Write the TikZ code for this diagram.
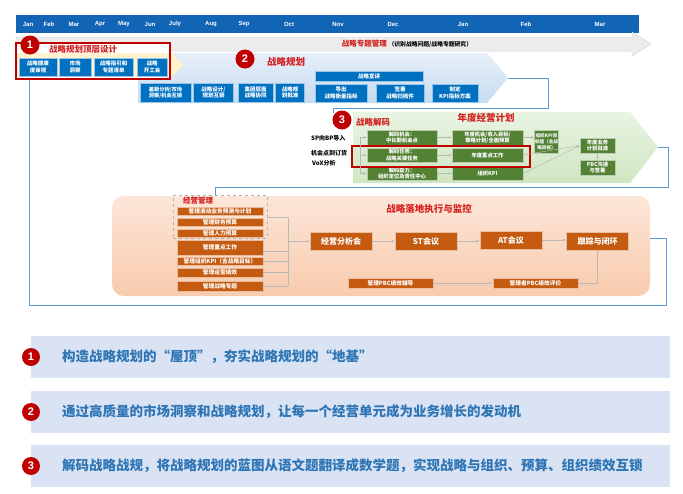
\documentclass[tikz,border=0pt]{standalone}
\usepackage{fontspec}
\setmainfont{Noto Sans CJK SC}
\newfontfamily\latfont{Liberation Sans}
\usetikzlibrary{arrows.meta,calc}
\definecolor{tlblue}{HTML}{1265B5}
\definecolor{cblue}{HTML}{0070C0}
\definecolor{cgreen}{HTML}{548235}
\definecolor{corange}{HTML}{C55A11}
\definecolor{dred}{HTML}{C00000}
\definecolor{tred}{HTML}{D42020}
\definecolor{connc}{HTML}{5B9BD5}
\definecolor{barbg}{HTML}{DAE3F3}
\definecolor{bartxt}{HTML}{2E75B6}
\definecolor{ctwotop}{HTML}{E6EFF9}
\definecolor{ctwobot}{HTML}{C7DCF0}
\definecolor{cthreetop}{HTML}{E9F4E2}
\definecolor{cthreebot}{HTML}{CFE6C2}
\definecolor{cfourtop}{HTML}{FCE6D8}
\definecolor{cfourbot}{HTML}{F8CBAD}
\definecolor{cyel}{HTML}{FFF2CC}
\tikzset{
  mon/.style={text=white, font=\latfont\bfseries\fontsize{6}{7}\selectfont, inner sep=0},
  bbox/.style={fill=cblue, draw=cblue!40, line width=0.4, text=white, align=center, inner sep=0, font=\bfseries\fontsize{5.5}{6.5}\selectfont},
  gbox/.style={fill=cgreen, draw=cgreen!40, line width=0.4, text=white, align=center, inner sep=0, font=\bfseries\fontsize{5.3}{6.3}\selectfont},
  obox/.style={fill=corange, draw=corange!40, line width=0.4, text=white, align=center, inner sep=0, minimum width=86, font=\bfseries\fontsize{5.7}{6.5}\selectfont},
  mbox/.style={fill=corange, draw=corange!40, line width=0.4, text=white, align=center, inner sep=0, minimum width=62, minimum height=18, font=\bfseries\fontsize{8}{9}\selectfont},
  numc/.style={circle, fill=dred, text=white, inner sep=0, minimum size=19, font=\latfont\bfseries\fontsize{11}{12}\selectfont},
  ttl/.style={text=tred, inner sep=0, font=\bfseries\fontsize{8.5}{9}\selectfont},
  lbl/.style={text=black, inner sep=0, anchor=west, font=\bfseries\fontsize{6}{7}\selectfont},
  conn/.style={draw=connc, line width=0.8},
  ar/.style={draw=gray!55, line width=0.5, -{Latex[length=3,width=2.6]}},
  gl/.style={draw=gray!55, line width=0.5},
  bar/.style={fill=barbg, inner sep=0, minimum width=639, minimum height=42},
  btxt/.style={text=bartxt, anchor=west, inner sep=0, font=\bfseries\fontsize{13.5}{15}\selectfont},
}
\begin{document}
\begin{tikzpicture}[x=1pt,y=-1pt]
\useasboundingbox (0,0) rectangle (683,493);
\fill[white] (0,0) rectangle (683,493);
% timeline
\fill[tlblue] (16,15) rectangle (639,33);
\node[mon] (mo1) at (28,24) {Jan};
\node[mon] (mo2) at (49,24) {Feb};
\node[mon] (mo3) at (74,24) {Mar};
\node[mon] (mo4) at (100,24) {Apr};
\node[mon] (mo5) at (124,24) {May};
\node[mon] (mo6) at (150,24) {Jun};
\node[mon] (mo7) at (175,24) {July};
\node[mon] (mo8) at (211,24) {Aug};
\node[mon] (mo9) at (244,24) {Sep};
\node[mon] (mo10) at (289,24) {Oct};
\node[mon] (mo11) at (338,24) {Nov};
\node[mon] (mo12) at (393,24) {Dec};
\node[mon] (mo13) at (463,24) {Jan};
\node[mon] (mo14) at (526,24) {Feb};
\node[mon] (mo15) at (600,24) {Mar};
% gray topic arrow
\path[fill=gray!15, draw=gray!30, line width=0.5] (16,37) -- (632,37) -- (632,32) -- (651,44) -- (632,56) -- (632,51) -- (16,51) -- cycle;
\node[inner sep=0] (gt) at (407,44) {\textcolor{tred}{\bfseries\fontsize{7.5}{8}\selectfont 战略专题管理}\,{\bfseries\fontsize{5.8}{7}\selectfont （识别战略问题/战略专题研究）}};
% section 2 background
\path[top color=ctwotop, bottom color=ctwobot] (138,53) -- (487,53) -- (508,78) -- (487,103) -- (138,103) -- cycle;
\coordinate (c2tip) at (508,78);
% section 1
\fill[white] (16,43) rectangle (170,79);
\fill[cyel] (16,53) -- (171,53) -- (184,65) -- (171,77) -- (16,77) -- cycle;
\node[bbox, minimum width=38, minimum height=18] (b11) at (38,67) {战略健康\\度审视};
\node[bbox, minimum width=32, minimum height=18] (b12) at (75,67) {市场\\洞察};
\node[bbox, minimum width=39, minimum height=18] (b13) at (113.5,67) {战略指引和\\专题清单};
\node[bbox, minimum width=30, minimum height=18] (b14) at (152,67) {战略\\开工会};
\node[draw=dred, line width=1.2, minimum width=154, minimum height=36, inner sep=0] (sec1) at (93,61) {};
\node[numc] (n1) at (30,45) {1};
\node[ttl] (t1) at (83,49) {战略规划顶层设计};
% section 2
\node[numc] (n2) at (245,59) {2};
\node[ttl, font=\bfseries\fontsize{9.5}{10}\selectfont] (t2) at (286,62) {战略规划};
\node[bbox, minimum width=51, minimum height=19, font=\bfseries\fontsize{5.2}{6.3}\selectfont] (b21) at (165.5,92.5) {差距分析/市场\\洞察/机会互锁};
\node[bbox, minimum width=40, minimum height=19] (b22) at (213.5,92.5) {战略设计/\\规划互锁};
\node[bbox, minimum width=35, minimum height=19] (b23) at (255.5,92.5) {集团层面\\战略协同};
\node[bbox, minimum width=29, minimum height=19] (b24) at (290,92.5) {战略规\\划批准};
\node[bbox, minimum width=108, minimum height=10] (b25) at (369,76) {战略宣讲};
\node[bbox, minimum width=52, minimum height=18] (b26) at (341,93) {导出\\战略衡量指标};
\node[bbox, minimum width=48, minimum height=18] (b27) at (400,93) {签署\\战略归档件};
\node[bbox, minimum width=46, minimum height=18] (b28) at (455,93) {制定\\KPI指标方案};
% connector 2 -> 3
\coordinate (k2a) at (548,108);
\coordinate (k2b) at (333,113);
\draw[conn] (c2tip) -| (k2a) -| (k2b);
% section 3
\path[top color=cthreetop, bottom color=cthreebot] (353,112) -- (630,112) -- (658,147) -- (630,183) -- (353,183) -- cycle;
\coordinate (c3tip) at (658,147);
\node[numc] (n3) at (342,120) {3};
\node[ttl] (t3a) at (373,122) {战略解码};
\node[ttl, font=\bfseries\fontsize{9.5}{10}\selectfont] (t3b) at (486,118) {年度经营计划};
\node[lbl] (l1) at (311,138) {SP向BP导入};
\node[lbl] (l2) at (311,153) {机会点到订货};
\node[lbl] (l3) at (312,163) {VoX分析};
\node[gbox, minimum width=70, minimum height=15] (g11) at (402,137.5) {解码机会：\\中长期机会点};
\node[gbox, minimum width=70, minimum height=14] (g12) at (402,155) {解码任务：\\战略关键任务};
\node[gbox, minimum width=70, minimum height=13] (g13) at (402,173.5) {解码能力：\\组织定位及责任中心};
\node[gbox, minimum width=71, minimum height=15] (g21) at (487.5,137.5) {年度机会/收入目标/\\策略计划/全面预算};
\node[gbox, minimum width=71, minimum height=14] (g22) at (487.5,155) {年度重点工作};
\node[gbox, minimum width=71, minimum height=13] (g23) at (487.5,173.5) {组织KPI};
\node[gbox, minimum width=24, minimum height=23, font=\bfseries\fontsize{4.6}{6}\selectfont] (g31) at (546.5,141.5) {组织KPI目\\标值（含战\\略目标）};
\node[gbox, minimum width=35, minimum height=15] (g41) at (597.5,145.5) {年度业务\\计划批准};
\node[gbox, minimum width=35, minimum height=15] (g42) at (597.5,167.5) {PBC沟通\\与签署};
\node[draw=dred, line width=1.3, minimum width=178, minimum height=21, inner sep=0] (hl) at (441,156.5) {};
\coordinate (bt) at (360,137.5);
\coordinate (bb) at (360,173.5);
\draw[gl] (bt) -- (bb);
\draw[ar] (bt) -- (g11.west);
\draw[ar] (bt |- g12.west) -- (g12.west);
\draw[ar] (bb) -- (g13.west);
\draw[ar] (g11) -- (g21);
\draw[ar] (g12) -- (g22);
\draw[ar] (g13) -- (g23);
\draw[ar] (g21.east) -- (g21.east -| g31.west);
\draw[ar] (g22.east) -- (g41.west);
\draw[ar] (g23.east) -- (g41.west);
\draw[ar] (g41) -- (g42);
% connector 3 -> 4
\coordinate (k3a) at (668,187);
\coordinate (k3b) at (215,196);
\draw[conn] (c3tip) -| (k3a) -| (k3b);
% section 4
\node[top color=cfourtop, bottom color=cfourbot, rounded corners=12, minimum width=538, minimum height=100, inner sep=0] (sec4) at (381,246) {};
\node[draw=gray!60, dashed, line width=0.5, minimum width=94, minimum height=43, inner sep=0] (dg) at (220,216.5) {};
\node[ttl, font=\bfseries\fontsize{7.5}{8}\selectfont] (t4a) at (198,201) {经营管理};
\node[ttl, font=\bfseries\fontsize{9.5}{10}\selectfont] (t4) at (429,209) {战略落地执行与监控};
\node[obox, minimum height=8] (o1) at (220,211) {管理滚动业务预测与计划};
\node[obox, minimum height=8] (o2) at (220,222) {管理财务预算};
\node[obox, minimum height=8] (o3) at (220,233) {管理人力预算};
\node[obox, minimum height=15] (o4) at (220,247.5) {管理重点工作};
\node[obox, minimum height=8] (o5) at (220,261.5) {管理组织KPI（含战略目标）};
\node[obox, minimum height=9] (o6) at (220,272.5) {管理运营绩效};
\node[obox, minimum height=10] (o7) at (220,286) {管理战略专题};
\node[mbox] (m1) at (341,241) {经营分析会};
\node[mbox] (m2) at (426,241) {ST会议};
\node[mbox] (m3) at (511,240) {AT会议};
\node[mbox] (m4) at (597.5,241) {跟踪与闭环};
\node[obox, minimum width=85, minimum height=10] (p1) at (390.5,283) {管理PBC绩效辅导};
\node[obox, minimum width=85, minimum height=10] (p2) at (535.5,283) {管理者PBC绩效评价};
\coordinate (bus1) at (288,217);
\coordinate (bus2) at (288,286);
\draw[gl] (dg.east |- bus1) -- (bus1) -- (bus2);
\draw[gl] (o4.east |- 0,251) -- (288,251);
\draw[gl] (o5.east) -- (o5.east -| bus1);
\draw[gl] (o6.east) -- (o6.east -| bus1);
\draw[gl] (o7.east) -- (o7.east -| bus1);
\draw[ar] (bus1 |- m1.west) -- (m1.west);
\draw[ar] (m1) -- (m2);
\draw[ar] (m2.east) -- (m2.east -| m3.west);
\draw[ar] (m3.east) -- (m3.east -| m4.west);
\draw[ar] (p1) -- (p2);
\draw[ar] (p2.east) -| (m4.south);
% connector 1 -> 4
\coordinate (k1a) at (29,305);
\coordinate (k1b) at (666,238);
\draw[conn] (sec1.south -| k1a) -- (k1a) -| (k1b) -- (k1b -| sec4.east);
% bottom bars
\node[bar] (r1) at (350.5,357) {};
\node[bar] (r2) at (350.5,412) {};
\node[bar] (r3) at (350.5,466) {};
\node[numc, minimum size=18] (n4) at (31,357) {1};
\node[numc, minimum size=18] (n5) at (31,412) {2};
\node[numc, minimum size=18] (n6) at (31,466) {3};
\node[btxt] (s1) at (62,357) {构造战略规划的“屋顶”，夯实战略规划的“地基”};
\node[btxt] (s2) at (62,412) {通过高质量的市场洞察和战略规划，让每一个经营单元成为业务增长的发动机};
\node[btxt] (s3) at (62,466) {解码战略战规，将战略规划的蓝图从语文题翻译成数学题，实现战略与组织、预算、组织绩效互锁};
\end{tikzpicture}
\end{document}
